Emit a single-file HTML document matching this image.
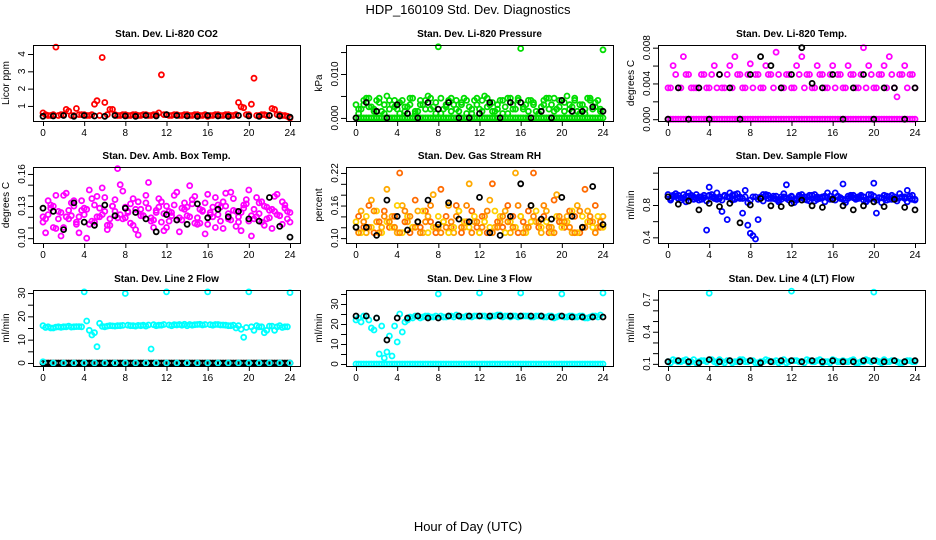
<!DOCTYPE html>
<html><head><meta charset="utf-8"><style>
html,body{margin:0;padding:0;background:#fff;}
svg{display:block;font-family:"Liberation Sans",sans-serif;}
</style></head><body>
<svg id="chart" width="936" height="540" viewBox="0 0 936 540">
<text x="468" y="14" text-anchor="middle" font-size="13">HDP_160109  Std. Dev. Diagnostics</text>
<text x="468" y="531" text-anchor="middle" font-size="13">Hour of Day (UTC)</text>
</svg>
<script>
// hour grids
const HA=[0,0.5,1,1.5,2,2.5,3,3.5,4,4.5,5,5.5,6,6.5,7,7.5,8,8.5,9,9.5,10,10.5,11,11.5,12,12.5,13,13.5,14,14.5,15,15.5,16,16.5,17,17.5,18,18.5,19,19.5,20,20.5,21,21.5,22,22.5,23,23.5,24];
const HB=[0.25,0.75,1.25,1.75,2.25,2.75,3.25,3.75,4.25,4.75,5.25,5.75,6.25,6.75,7.25,7.75,8.25,8.75,9.25,9.75,10.25,10.75,11.25,11.75,12.25,12.75,13.25,13.75,14.25,14.75,15.25,15.75,16.25,16.75,17.25,17.75,18.25,18.75,19.25,19.75,20.25,20.75,21.25,21.75,22.25,22.75,23.25,23.75];
const HK=[0,1,2,3,4,5,6,7,8,9,10,11,12,13,14,15,16,17,18,19,20,21,22,23,24];
const xTicks=[0,4,8,12,16,20,24];

// CO2
const co2A=[0.6,0.45,0.5,0.45,0.5,0.7,0.45,0.5,0.5,0.45,1.1,0.45,1.2,0.8,0.5,0.45,0.5,0.45,0.5,0.45,0.5,0.45,0.5,2.8,0.5,0.45,0.5,0.45,0.5,0.45,0.5,0.45,0.4,0.45,0.5,0.45,0.5,0.45,1.2,0.9,0.5,2.6,0.45,0.5,0.45,0.8,0.5,0.45,0.3];
const co2B=[0.5,0.45,4.4,0.5,0.8,0.45,0.85,0.5,0.45,0.5,1.3,3.8,0.5,0.8,0.45,0.5,0.45,0.5,0.45,0.5,0.45,0.5,0.6,0.5,0.45,0.5,0.45,0.5,0.45,0.5,0.45,0.5,0.45,0.5,0.45,0.5,0.45,0.5,0.95,0.5,1.1,0.45,0.5,0.45,0.85,0.5,0.45,0.4];
const co2K=[0.4,0.42,0.45,0.4,0.45,0.42,0.4,0.45,0.42,0.4,0.45,0.42,0.5,0.45,0.42,0.4,0.45,0.42,0.4,0.45,0.42,0.4,0.45,0.42,0.35];
// Pressure
const prA=[0.003,0.002,0.0045,0.0025,0.004,0.0015,0.005,0.003,0.002,0.004,0.0025,0.0045,0.0015,0.003,0.005,0.0025,0.0162,0.002,0.004,0.003,0.0015,0.0045,0.0025,0.004,0.002,0.005,0.003,0.0015,0.004,0.0025,0.0045,0.002,0.0158,0.003,0.004,0.0015,0.0025,0.0045,0.003,0.002,0.004,0.005,0.0025,0.0015,0.003,0.0045,0.002,0.004,0.0155];
const prB=[0.002,0.004,0.0025,0.0015,0.0045,0.003,0.002,0.004,0.001,0.0025,0.0045,0.0015,0.003,0.004,0.002,0.001,0.0045,0.0025,0.0015,0.004,0.003,0.001,0.002,0.0045,0.004,0.0025,0.0015,0.003,0.001,0.0045,0.002,0.004,0.0025,0.0015,0.003,0.001,0.004,0.002,0.0045,0.0025,0.0015,0.003,0.004,0.001,0.002,0.0045,0.0025,0.0015];
const prD=[0.001,0.003,0.0045,0.002,0.0035,0.001,0.004,0.0025,0.0035,0.0015,0.003,0.001,0.004,0.002,0.0045,0.0035,0.001,0.003,0.0045,0.002,0.0035,0.004,0.001,0.003,0.0015,0.0045,0.0035,0.002,0.004,0.001,0.003,0.0045,0.002,0.004,0.0035,0.001,0.003,0.0045,0.0015,0.004,0.0035,0.002,0.0045,0.003,0.001,0.004,0.0035,0.002];
const prZ=[0,0,0,0,0,0,0,0,0,0,0,0,0,0,0,0,0,0,0,0,0,0,0,0,0,0,0,0,0,0,0,0,0,0,0,0,0,0,0,0,0,0,0,0,0,0,0,0,0];
const prK=[0,0.0035,0.0015,0,0.003,0.001,0,0.0035,0.002,0.0035,0,0,0.001,0.0035,0,0.0035,0.0035,0,0.0015,0,0.004,0.0015,0.0015,0.0025,0.0015];
// Temp
const tpA=[0.0035,0.006,0.0035,0.007,0.005,0.0035,0.0035,0.005,0.0035,0.006,0.005,0.0035,0.006,0.007,0.005,0.0035,0.0062,0.005,0.0035,0.006,0.005,0.0075,0.0035,0.005,0.0035,0.006,0.007,0.005,0.0035,0.006,0.005,0.0035,0.006,0.005,0.0035,0.006,0.005,0.0035,0.008,0.006,0.0035,0.005,0.006,0.007,0.0035,0.005,0.006,0.005,0.0035];
const tpB=[0.0035,0.005,0.0035,0.005,0.0035,0.0035,0.005,0.0035,0.005,0.0035,0.0035,0.005,0.0035,0.005,0.0035,0.005,0.0035,0.005,0.0035,0.005,0.0035,0.005,0.0035,0.005,0.0035,0.005,0.0035,0.005,0.0035,0.005,0.0035,0.005,0.0035,0.005,0.0035,0.005,0.0035,0.005,0.0035,0.005,0.0035,0.005,0.0035,0.005,0.0025,0.005,0.0035,0.005];
const tpZ=[0,0,0,0,0,0,0,0,0,0,0,0,0,0,0,0,0,0,0,0,0,0,0,0,0,0,0,0,0,0,0,0,0,0,0,0,0,0,0,0,0,0,0,0,0,0,0,0,0];
const tpK=[0,0.0035,0,0.0035,0,0.005,0.0035,0,0.005,0.007,0.006,0.0035,0.005,0.008,0.004,0.0035,0.005,0,0.0035,0.005,0,0.0035,0.0035,0,0.0035];
// Box temp
const btA=[0.12,0.135,0.11,0.125,0.14,0.118,0.13,0.105,0.122,0.145,0.115,0.128,0.138,0.112,0.125,0.15,0.119,0.132,0.108,0.127,0.14,0.116,0.124,0.134,0.11,0.121,0.143,0.117,0.129,0.136,0.113,0.126,0.141,0.12,0.131,0.109,0.123,0.137,0.115,0.128,0.145,0.118,0.133,0.112,0.126,0.139,0.121,0.131,0.115];
const btB=[0.105,0.128,0.14,0.102,0.12,0.133,0.115,0.126,0.1,0.137,0.12,0.147,0.112,0.13,0.165,0.118,0.124,0.137,0.103,0.121,0.152,0.117,0.129,0.107,0.125,0.14,0.119,0.133,0.149,0.114,0.127,0.104,0.122,0.138,0.116,0.13,0.143,0.111,0.124,0.136,0.102,0.12,0.134,0.118,0.127,0.141,0.113,0.125];
const btC=[0.115,0.122,0.13,0.118,0.11,0.126,0.135,0.12,0.128,0.113,0.131,0.12,0.125,0.118,0.136,0.122,0.129,0.114,0.127,0.121,0.133,0.119,0.126,0.115,0.13,0.124,0.117,0.128,0.121,0.132,0.119,0.125,0.113,0.129,0.122,0.134,0.118,0.126,0.12,0.131,0.116,0.127,0.123,0.13,0.119,0.125,0.121,0.128,0.124];
const btD=[0.118,0.131,0.109,0.124,0.142,0.121,0.113,0.135,0.127,0.116,0.139,0.122,0.108,0.13,0.119,0.144,0.125,0.112,0.134,0.121,0.128,0.11,0.137,0.123,0.116,0.131,0.106,0.127,0.12,0.139,0.114,0.133,0.124,0.11,0.129,0.142,0.117,0.125,0.107,0.132,0.121,0.138,0.115,0.129,0.109,0.122,0.134,0.118];
const btK=[0.128,0.125,0.108,0.133,0.115,0.112,0.131,0.121,0.128,0.124,0.118,0.106,0.122,0.117,0.113,0.132,0.119,0.127,0.12,0.125,0.118,0.116,0.138,0.111,0.101];
// RH
const rhA=[0.12,0.15,0.11,0.17,0.13,0.12,0.19,0.14,0.11,0.16,0.13,0.12,0.15,0.11,0.14,0.18,0.12,0.13,0.16,0.11,0.15,0.12,0.2,0.13,0.11,0.14,0.17,0.12,0.13,0.15,0.11,0.22,0.14,0.12,0.16,0.13,0.11,0.15,0.12,0.18,0.13,0.14,0.11,0.16,0.12,0.15,0.13,0.12,0.14];
const rhB=[0.14,0.12,0.16,0.11,0.13,0.15,0.12,0.14,0.22,0.13,0.11,0.17,0.12,0.15,0.13,0.11,0.19,0.14,0.12,0.16,0.11,0.13,0.15,0.12,0.14,0.11,0.2,0.13,0.12,0.16,0.14,0.11,0.13,0.15,0.22,0.12,0.14,0.11,0.17,0.13,0.12,0.15,0.14,0.11,0.19,0.13,0.16,0.12];
const rhC=[0.13,0.11,0.14,0.12,0.15,0.11,0.13,0.12,0.16,0.11,0.14,0.12,0.13,0.15,0.11,0.12,0.14,0.13,0.11,0.12,0.15,0.13,0.12,0.14,0.11,0.13,0.12,0.15,0.14,0.11,0.13,0.12,0.14,0.11,0.13,0.15,0.12,0.13,0.11,0.14,0.12,0.13,0.15,0.11,0.14,0.13,0.12,0.14,0.12];
const rhD=[0.11,0.13,0.12,0.15,0.11,0.14,0.13,0.12,0.11,0.15,0.14,0.12,0.11,0.13,0.16,0.12,0.11,0.12,0.13,0.14,0.12,0.16,0.11,0.13,0.12,0.15,0.11,0.12,0.14,0.13,0.12,0.16,0.11,0.12,0.14,0.13,0.16,0.12,0.11,0.14,0.13,0.12,0.11,0.15,0.12,0.14,0.11,0.13];
const rhK=[0.12,0.12,0.105,0.17,0.14,0.115,0.13,0.17,0.125,0.165,0.135,0.13,0.175,0.11,0.105,0.14,0.2,0.16,0.135,0.135,0.175,0.14,0.12,0.195,0.125];
// Sample flow
const sfA=[0.93,0.9,0.92,0.88,0.95,0.9,0.86,0.92,1.02,0.9,0.88,0.92,0.95,0.87,0.9,0.98,0.45,0.38,0.9,0.93,0.88,0.91,0.87,1.05,0.9,0.88,0.93,0.86,0.92,0.9,0.89,0.95,0.87,0.91,1.06,0.88,0.92,0.9,0.86,0.93,1.07,0.89,0.92,0.87,0.9,0.94,0.88,0.91,0.86];
const sfB=[0.88,0.94,0.86,0.91,0.89,0.93,0.87,0.49,0.9,0.95,0.86,0.62,0.92,0.89,0.7,0.55,0.42,0.62,0.93,0.88,0.91,0.86,0.94,0.89,0.87,0.92,0.9,0.85,0.93,0.88,0.91,0.87,0.95,0.89,0.86,0.92,0.88,0.9,0.85,0.93,0.7,0.89,0.86,0.92,0.88,0.9,0.98,0.87];
const sfC=[0.9,0.92,0.88,0.93,0.91,0.87,0.9,0.89,0.92,0.88,0.9,0.91,0.89,0.93,0.88,0.9,0.86,0.9,0.88,0.91,0.89,0.87,0.9,0.88,0.91,0.86,0.89,0.9,0.88,0.87,0.9,0.89,0.88,0.9,0.87,0.91,0.89,0.88,0.9,0.87,0.91,0.89,0.88,0.9,0.87,0.89,0.9,0.88,0.87];
const sfD=[0.86,0.91,0.89,0.84,0.92,0.88,0.9,0.85,0.93,0.87,0.72,0.9,0.86,0.94,0.88,0.83,0.9,0.87,0.85,0.92,0.88,0.84,0.9,0.86,0.83,0.9,0.87,0.92,0.85,0.89,0.84,0.91,0.86,0.88,0.83,0.9,0.87,0.92,0.84,0.88,0.86,0.83,0.91,0.87,0.85,0.9,0.84,0.92];
const sfK=[0.9,0.81,0.85,0.74,0.82,0.78,0.82,0.58,0.8,0.88,0.79,0.78,0.82,0.86,0.79,0.77,0.87,0.79,0.74,0.79,0.84,0.78,0.87,0.77,0.74];
// Line 2
const l2A=[16,15.5,15,15.5,15.5,15.8,15.5,15.6,30.5,14,13,17,15.5,16,15.8,16,29.8,16,15.8,16,15.8,6,16,16.2,30.5,16,16.3,16.2,16,16.2,16.5,16.3,30.5,16.2,16.5,16.3,16,16.2,16,11,30.5,14,15.5,13,15.8,14,16,15.5,30.2];
const l2B=[15.2,15,15.4,15.3,15.5,15.4,15.6,15.5,18,12,7,15.7,15.8,15.9,16,16.1,16.2,16,16.1,16.2,16.3,16.4,16.2,16.5,16.3,16.4,16.5,16.6,16.5,16.4,16.6,16.5,16.4,16.5,16.3,16.2,16,15,14.5,15.2,15.5,16,15.5,14,15.8,15.5,15.2,15.5];
const l2Z=[0.5,0,0,0,0,0,0,0,0,0,0,0,0,0,0,0,0,0,0,0,0,0,0,0,0];
const l2K=[0,0,0,0,0,0,0,0,0,0,0,0,0,0,0,0,0,0,0,0,0,0,0,0,0,0,0,0,0,0,0,0,0,0,0,0,0,0,0,0,0,0,0,0,0,0,0,0,0];
// Line 3
const l3A=[22,21,24,18,23,19,6,4,11,16,22,23,24,23.5,24,23.5,35,23.5,24,23.5,24,23.5,24,24,35.5,24,23.5,24,24.5,24,23.5,24,35.5,24,23.5,24,24,23.5,24,23.5,35,23.5,24,23.5,24,23,24,23.5,35.5];
const l3B=[23,24,22,17,5,3,14,19,25,21,23.5,24,23,24,23.5,24,24,23.5,24,24.5,23.5,24,23.5,24,24,23.5,24,24.5,23.5,24,24,23.5,24,24,23.5,24,23.5,24,23,24,23.5,24,23.5,24,23,23.5,24,24.5];
const l3Z=[0,0,0,0,0,0,0,0,0,0,0,0,0,0,0,0,0,0,0,0,0,0,0,0,0,0,0,0,0,0,0,0,0,0,0,0,0,0,0,0,0,0,0,0,0,0,0,0,0];
const l3K=[24,24,23,12,23,23,24,23,23,24,24,24,24,24,24,24,24,24,24,23.5,24,23.5,23.5,23.5,23.5];
// Line 4
const l4A=[0.12,0.14,0.12,0.13,0.11,0.14,0.12,0.13,0.76,0.12,0.14,0.11,0.13,0.12,0.14,0.12,0.13,0.11,0.12,0.14,0.12,0.13,0.12,0.11,0.78,0.13,0.12,0.14,0.12,0.13,0.11,0.12,0.14,0.12,0.13,0.12,0.14,0.11,0.12,0.13,0.77,0.12,0.14,0.12,0.13,0.11,0.12,0.13,0.12];
const l4B=[0.11,0.13,0.12,0.14,0.12,0.11,0.13,0.12,0.14,0.11,0.12,0.13,0.11,0.12,0.14,0.12,0.13,0.11,0.12,0.13,0.12,0.11,0.14,0.12,0.13,0.12,0.11,0.13,0.12,0.14,0.12,0.11,0.13,0.12,0.12,0.13,0.11,0.12,0.14,0.12,0.13,0.11,0.12,0.13,0.12,0.11,0.13,0.12];
const l4K=[0.12,0.13,0.12,0.11,0.14,0.12,0.13,0.12,0.13,0.11,0.12,0.13,0.13,0.12,0.13,0.12,0.13,0.12,0.12,0.13,0.13,0.12,0.13,0.12,0.13];

const panels=[
 {name:'co2',title:'Stan. Dev. Li-820 CO2',ylab:'Licor ppm',col:0,row:0,ymin:0.13,ymax:4.52,ticks:[1,2,3,4],labels:['1','2','3','4'],
  series:[[HA,co2A,'#ff0000'],[HB,co2B,'#ff0000'],[HK,co2K,'#000000']]},
 {name:'pressure',title:'Stan. Dev. Li-820 Pressure',ylab:'kPa',col:1,row:0,ymin:-0.0007,ymax:0.0166,ticks:[0,0.005,0.01,0.015],labels:['0.000','','0.010',''],
  series:[[HA,prZ,'#00dd00'],[HB,prZ.slice(0,48),'#00dd00'],[HA,prA,'#00dd00'],[HB,prB,'#00dd00'],[HB,prD,'#00dd00'],[HK,prK,'#000000']]},
 {name:'temp',title:'Stan. Dev. Li-820 Temp.',ylab:'degrees C',col:2,row:0,ymin:-0.0002,ymax:0.0083,ticks:[0,0.002,0.004,0.006,0.008],labels:['0.000','','0.004','','0.008'],
  series:[[HA,tpZ,'#ff00ff'],[HB,tpZ.slice(0,48),'#ff00ff'],[HA,tpA,'#ff00ff'],[HB,tpB,'#ff00ff'],[HK,tpK,'#000000']]},
 {name:'box-temp',title:'Stan. Dev. Amb. Box Temp.',ylab:'degrees C',col:0,row:1,ymin:0.0955,ymax:0.1665,ticks:[0.10,0.11,0.12,0.13,0.14,0.15,0.16],labels:['0.10','','','0.13','','','0.16'],
  series:[[HA,btA,'#ff00ff'],[HB,btB,'#ff00ff'],[HA,btC,'#ff00ff'],[HB,btD,'#ff00ff'],[HK,btK,'#000000']]},
 {name:'rh',title:'Stan. Dev. Gas Stream RH',ylab:'percent',col:1,row:1,ymin:0.091,ymax:0.231,ticks:[0.10,0.12,0.14,0.16,0.18,0.20,0.22],labels:['0.10','','','0.16','','','0.22'],
  series:[[HA,rhA,'#ffaa00'],[HB,rhB,'#ff6a00'],[HA,rhC,'#ffd000'],[HB,rhD,'#ff8800'],[HK,rhK,'#000000']]},
 {name:'sample-flow',title:'Stan. Dev. Sample Flow',ylab:'ml/min',col:2,row:1,ymin:0.33,ymax:1.27,ticks:[0.4,0.6,0.8,1.0,1.2],labels:['0.4','','0.8','',''],
  series:[[HA,sfA,'#0000ff'],[HB,sfB,'#0000ff'],[HA,sfC,'#0000ff'],[HB,sfD,'#0000ff'],[HK,sfK,'#000000']]},
 {name:'line2-flow',title:'Stan. Dev. Line 2 Flow',ylab:'ml/min',col:0,row:2,ymin:-1.3,ymax:31.3,ticks:[0,5,10,15,20,25,30],labels:['0','','10','','20','','30'],
  series:[[HA,l2A,'#00ffff'],[HB,l2B,'#00ffff'],[HA,l2K,'#000000'],[HB,l2K.slice(0,48),'#000000'],[HK,l2Z,'#00ffff']]},
 {name:'line3-flow',title:'Stan. Dev. Line 3 Flow',ylab:'ml/min',col:1,row:2,ymin:-1,ymax:37,ticks:[0,5,10,15,20,25,30,35],labels:['0','','10','','20','','30',''],
  series:[[HA,l3Z,'#00ffff'],[HB,l3Z.slice(0,48),'#00ffff'],[HA,l3A,'#00ffff'],[HB,l3B,'#00ffff'],[HK,l3K,'#000000']]},
 {name:'line4-flow',title:'Stan. Dev. Line 4 (LT) Flow',ylab:'ml/min',col:2,row:2,ymin:0.08,ymax:0.79,ticks:[0.1,0.2,0.3,0.4,0.5,0.6,0.7],labels:['0.1','','','0.4','','','0.7'],
  series:[[HA,l4A,'#00ffff'],[HB,l4B,'#00ffff'],[HK,l4K,'#000000']]}
];

const NS='http://www.w3.org/2000/svg';
const svg=document.getElementById('chart');
const LEFTS=[33,346,658], TOPS=[45,167,290], W=267, H=76;
function mk(tag,attrs,parent){const e=document.createElementNS(NS,tag);for(const k in attrs)e.setAttribute(k,attrs[k]);parent.appendChild(e);return e;}

panels.forEach(p=>{
  const L=LEFTS[p.col],T=TOPS[p.row];
  const g=mk('g',{},svg);
  
  
  const xs=h=>L+10+h*(W-20)/24;
  const ys=v=>T+H-(v-p.ymin)/(p.ymax-p.ymin)*H;
  const t=mk('text',{x:L+W/2,y:T-8,'text-anchor':'middle','font-size':'10','font-weight':'bold'},g);
  t.textContent=p.title;
  
  
  const yl=mk('text',{x:0,y:0,'text-anchor':'middle','font-size':'10',transform:`translate(${L-24},${T+H/2}) rotate(-90)`},g);
  yl.textContent=p.ylab;
  
  
  // points
  const pg=mk('g',{fill:'none','stroke-width':'1.8'},g);
  
  
  p.series.forEach(s=>{
    const [hx,vals,col]=s;
    vals.forEach((v,i)=>{
      if(i>=hx.length)return;
      const c=mk('circle',{cx:xs(hx[i]).toFixed(1),cy:ys(v).toFixed(1),r:'2.5',stroke:col},pg);
      
      
    });
  });
  // box
  const box=mk('rect',{x:L+0.5,y:T+0.5,width:W,height:H,fill:'none',stroke:'#000','stroke-width':'1'},g);
  
  
  // x axis
  const xa=mk('g',{stroke:'#000','stroke-width':'1'},g);
  
  
  mk('line',{x1:xs(0),x2:xs(24),y1:T+H+0.5,y2:T+H+0.5},xa);
  xTicks.forEach(h=>{
    mk('line',{x1:xs(h)+0.5,x2:xs(h)+0.5,y1:T+H,y2:T+H+5},xa);
    const tl=mk('text',{x:xs(h),y:T+H+15,'text-anchor':'middle','font-size':'10',stroke:'none'},g);
    tl.textContent=String(h);
    
    
  });
  // y axis
  const ya=mk('g',{stroke:'#000','stroke-width':'1'},g);
  
  
  mk('line',{x1:L+0.5,x2:L+0.5,y1:ys(p.ticks[0]),y2:ys(p.ticks[p.ticks.length-1])},ya);
  p.ticks.forEach((v,i)=>{
    const y=ys(v);
    mk('line',{x1:L-5,x2:L,y1:y+0.5,y2:y+0.5},ya);
    if(p.labels[i]){
      const tl=mk('text',{x:0,y:0,'text-anchor':'middle','font-size':'10',transform:`translate(${L-8},${y}) rotate(-90)`},g);
      tl.textContent=p.labels[i];
      
      
    }
  });
});
</script>
</body></html>
